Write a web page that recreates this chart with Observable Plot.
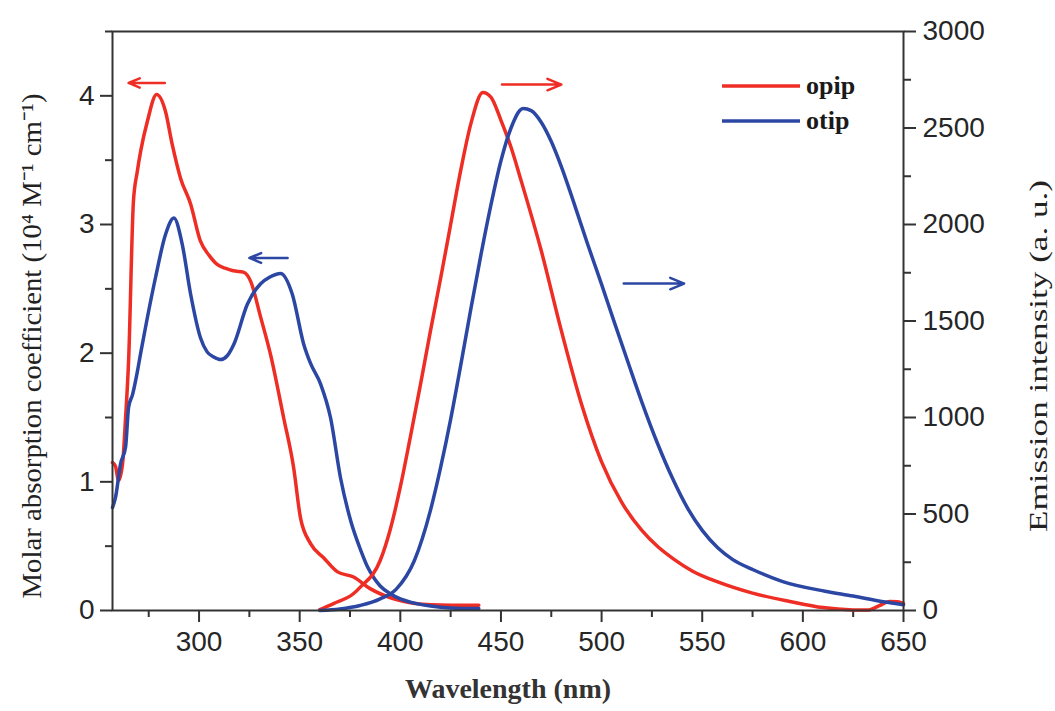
<!DOCTYPE html>
<html><head><meta charset="utf-8">
<script src="https://cdn.jsdelivr.net/npm/d3@7"></script>
<script src="https://cdn.jsdelivr.net/npm/@observablehq/plot@0.6"></script>
<style>body{margin:0;background:#fff} #chart{width:1055px;height:711px}</style>
</head><body><div id="chart"></div>
<script>
// ---- data ----
const seriesNames = ["opip", "otip"];
const seriesColors = ["#ee2d24", "#2b47a3"];

// absorption (left axis, 10^4 M^-1 cm^-1)
const opipAbsWl = [257, 258.5, 260, 262, 263.5, 265, 267.4, 269.3, 271, 274.3, 278.9, 283.3, 286.7, 290.8, 295.8, 300.7, 305, 309, 313, 317, 322, 325.6, 330.6, 335.5, 342, 347, 350.4, 355.4, 361.9, 368.8, 376.8, 385, 398, 415.5, 439];
const opipAbs   = [1.15, 1.12, 1.01, 1.14, 1.50, 1.94, 3.18, 3.41, 3.57, 3.80, 4.01, 3.88, 3.62, 3.36, 3.16, 2.87, 2.76, 2.69, 2.66, 2.64, 2.63, 2.56, 2.28, 1.99, 1.50, 1.11, 0.72, 0.52, 0.41, 0.30, 0.26, 0.17, 0.085, 0.045, 0.04];
const otipAbsWl = [257, 258.5, 261, 263.5, 265, 267, 269.4, 271, 274, 278.4, 283.3, 287.5, 291.6, 295.8, 300.7, 304, 307.3, 310.7, 314, 317.3, 324, 330.6, 335, 340.5, 346.3, 352, 355.4, 360.4, 365.3, 370.3, 375.3, 380.3, 383.7, 387, 390, 395, 400, 405, 415, 425, 439];
const otipAbs   = [0.80, 0.88, 1.14, 1.27, 1.58, 1.68, 1.86, 2.0, 2.25, 2.59, 2.92, 3.05, 2.85, 2.46, 2.12, 2.01, 1.97, 1.95, 1.98, 2.07, 2.38, 2.54, 2.59, 2.62, 2.46, 2.07, 1.92, 1.76, 1.50, 1.03, 0.70, 0.47, 0.34, 0.25, 0.19, 0.13, 0.09, 0.065, 0.035, 0.02, 0.015];

// emission (right axis, a.u.)
const opipEmWl = [360, 366.8, 376.8, 380, 390, 395, 400, 405, 410, 415, 420, 425, 430, 435, 441, 445, 450, 455, 460, 470, 480, 490, 500, 510, 520, 528, 536, 545, 557.7, 575, 593.5, 610, 625, 632, 638, 643, 647, 650];
const opipEm   = [5, 36, 88, 120, 259, 420, 640, 900, 1170, 1450, 1720, 2000, 2280, 2520, 2684, 2660, 2540, 2400, 2228, 1865, 1450, 1070, 770, 560, 415, 330, 265, 205, 148, 90, 47, 15, 3, 2, 25, 47, 45, 36];
const otipEmWl = [360, 370, 380, 390, 398, 407, 415, 420, 425, 430, 435, 440, 445, 450, 455, 461, 465, 470, 475, 480, 486, 493, 500, 506, 513, 520, 528, 535, 543, 550, 557.7, 565, 575.6, 590, 611, 625, 640, 650];
const otipEm   = [0, 8, 26, 60, 111, 259, 520, 740, 990, 1270, 1560, 1840, 2100, 2330, 2500, 2601, 2590, 2530, 2430, 2300, 2120, 1900, 1690, 1503, 1290, 1080, 860, 690, 525, 415, 325, 265, 210, 150, 100, 75, 45, 30];

// direction arrows (which axis each curve belongs to)
const arrowSeries = ["opip", "otip", "opip", "otip"];
const arrowAxis   = ["abs", "abs", "em", "em"];
const arrowFromWl = [283, 344, 450.5, 511];
const arrowToWl   = [265, 325, 480, 541];
const arrowLevel  = [4.10, 2.74, 2725, 1694];

// axes
const xDomain = [257, 650];
const absDomain = [0, 4.5];
const emDomain = [0, 3000];
const xMajor = [300, 350, 400, 450, 500, 550, 600, 650];
const xMinor = [275, 325, 375, 425, 475, 525, 575, 625];
const absMajor = [0, 1, 2, 3, 4];
const absMinor = [0.5, 1.5, 2.5, 3.5, 4.5];
const emMajor = [0, 500, 1000, 1500, 2000, 2500, 3000];
const emMinor = [250, 750, 1250, 1750, 2250, 2750];

const xTitle = "Wavelength (nm)";
const leftTitle = "Molar absorption coefficient (10\u2074 M\u207B\u00B9 cm\u207B\u00B9)";
const rightTitle = "Emission intensity (a. u.)";

// ---- build ----
const k = absDomain[1] / emDomain[1]; // emission -> left-scale units
const color = d => seriesColors[seriesNames.indexOf(d)];
const curves = [];
opipAbsWl.forEach((w, i) => curves.push({wl: w, v: opipAbs[i], s: "opip", id: "opip-abs"}));
otipAbsWl.forEach((w, i) => curves.push({wl: w, v: otipAbs[i], s: "otip", id: "otip-abs"}));
opipEmWl.forEach((w, i) => curves.push({wl: w, v: opipEm[i] * k, s: "opip", id: "opip-em"}));
otipEmWl.forEach((w, i) => curves.push({wl: w, v: otipEm[i] * k, s: "otip", id: "otip-em"}));

const arrows = arrowSeries.map((s, i) => ({
  s, x1: arrowFromWl[i], x2: arrowToWl[i],
  y: arrowAxis[i] === "em" ? arrowLevel[i] * k : arrowLevel[i]
}));

function legendMark(index, scales, values, dims) {
  const g = d3.create("svg:g");
  const right = dims.width - dims.marginRight;
  seriesNames.forEach((name, i) => {
    const y = dims.marginTop + 55 + i * 35;
    g.append("line").attr("x1", right - 181).attr("x2", right - 103)
      .attr("y1", y).attr("y2", y).attr("stroke", seriesColors[i]).attr("stroke-width", 3.5);
    g.append("text").attr("x", right - 97).attr("y", y + 8)
      .attr("text-anchor", "start")
      .attr("font-family", "'Liberation Serif', 'Times New Roman', serif")
      .attr("font-weight", "bold").attr("font-size", 26).attr("fill", "#1a1a1a").text(name);
  });
  return g.node();
}

const serif = "'Liberation Serif', 'Times New Roman', serif";
const axisCommon = {strokeWidth: 2, label: null, stroke: "#333"};
const chart = Plot.plot({
  width: 1055, height: 711,
  marginLeft: 112, marginRight: 152, marginTop: 31, marginBottom: 101,
  x: {domain: xDomain},
  y: {domain: absDomain},
  style: {fontFamily: "'Liberation Sans', Arial, sans-serif", fontSize: "28px", color: "#262626", background: "#fff"},
  marks: [
    Plot.axisX(xMajor, {...axisCommon, tickSize: 12, tickPadding: 9, tickFormat: d => String(d)}),
    Plot.axisX(xMinor, {...axisCommon, tickSize: 7, tickFormat: () => ""}),
    Plot.axisY(absMajor, {...axisCommon, tickSize: 12, tickPadding: 6, tickFormat: d => String(d)}),
    Plot.axisY(absMinor, {...axisCommon, tickSize: 7, tickFormat: () => ""}),
    Plot.axisY(emMajor.map(v => v * k), {...axisCommon, anchor: "right", tickSize: 12, tickPadding: 7, tickFormat: d => String(Math.round(d / k))}),
    Plot.axisY(emMinor.map(v => v * k), {...axisCommon, anchor: "right", tickSize: 7, tickFormat: () => ""}),
    Plot.line(curves, {x: "wl", y: "v", z: "id", stroke: d => color(d.s), strokeWidth: 3.5, curve: "monotone-x"}),
    Plot.arrow(arrows, {x1: "x1", x2: "x2", y1: "y", y2: "y", stroke: d => color(d.s), strokeWidth: 2.5, headLength: 9, headAngle: 45}),
    Plot.frame({stroke: "#333", strokeWidth: 2}),
    legendMark,
    Plot.text([xTitle], {text: d => d, frameAnchor: "bottom", textAnchor: "middle", dy: 87, fontFamily: serif, fontWeight: "bold", fontSize: 28, fill: "#333"}),
    Plot.text([leftTitle], {text: d => d, frameAnchor: "left", textAnchor: "middle", rotate: -90, dx: -80, dy: 25, fontFamily: serif, fontSize: 28, fill: "#222"}),
    Plot.text([rightTitle], {text: d => d, frameAnchor: "right", textAnchor: "middle", rotate: -90, dx: 135, dy: 35, fontFamily: serif, fontSize: 26, fill: "#222"})
  ]
});
// stretch the rotated titles to the lengths seen in the reference
chart.querySelectorAll("text").forEach(t => {
  if (t.textContent === leftTitle) { t.setAttribute("textLength", 505); t.setAttribute("lengthAdjust", "spacingAndGlyphs"); }
  if (t.textContent === rightTitle) { t.setAttribute("textLength", 352); t.setAttribute("lengthAdjust", "spacingAndGlyphs"); }
});
document.getElementById("chart").appendChild(chart);
</script>
</body></html>
